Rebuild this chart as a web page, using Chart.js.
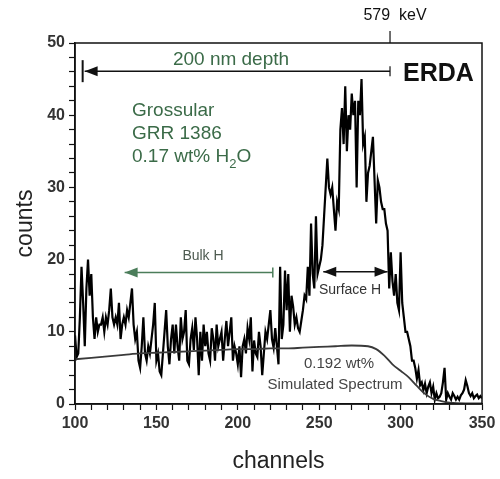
<!DOCTYPE html>
<html>
<head>
<meta charset="utf-8">
<script src="https://cdn.jsdelivr.net/npm/chart.js@4"></script>
<style>
  body { margin: 0; background: #fff; }
</style>
</head>
<body>
<canvas id="myChart" width="500" height="479"></canvas>
<script>
// measured ERDA spectrum, one value per channel starting at channel 100
const firstChannel = 100;
const counts = [
  9.5, 6.5, 7, 12, 19, 14, 8, 16, 20, 15,
  18, 12, 9, 12, 10, 11, 11, 12, 10, 12,
  11, 13, 16, 12, 11, 12, 11, 14, 9, 11,
  12, 11, 13, 12, 14, 16, 11, 9, 10, 6,
  5, 8, 12, 7, 6, 8, 7, 9, 11, 14,
  6, 7, 4.5, 4, 7, 10, 13, 8, 5.5, 9,
  11, 7, 11, 8, 6, 12, 9, 10, 13, 6,
  5.5, 9, 10.5, 7.5, 12, 9, 4, 10, 6, 11,
  8, 10, 7, 6, 10.5, 9, 6, 11, 8, 9,
  10, 6, 9, 11.5, 8, 10, 12, 6, 8, 7,
  5.5, 8, 3.7, 8, 9, 7, 10.5, 9, 12, 4.5,
  8.8, 7, 6.5, 10, 8, 4, 7, 10, 9, 11,
  13, 9, 7.8, 10.5, 8, 5.5, 19, 9, 11, 18.5,
  13, 18, 10, 15, 13.5, 11, 12, 10.5, 10, 11.5,
  13, 15, 14.5, 19, 15, 25, 18, 16, 26, 18,
  19, 20, 22, 26, 30, 34, 30, 29, 30, 27,
  24, 28, 27, 38, 41, 36, 44, 35, 40, 38,
  43, 40, 42, 30, 42, 40, 45, 36, 37, 28,
  32, 33, 35, 37, 31, 25, 31, 30, 28, 27,
  27, 25, 24, 16, 21, 17, 15, 18, 14, 13,
  21, 14, 12, 10, 10, 9, 8, 6, 6, 5,
  3.5, 4.7, 2.6, 3, 1.9, 2.8, 1.5, 2.4, 3, 1.5,
  2.4, 0.6, 1.5, 0.8, 1, 1.5, 3, 5, 0.6, 1.5,
  1, 0.6, 1.5, 1.1, 0.6, 1, 0.6, 1.2, 1.5, 2,
  3.3, 2.5, 1.5, 1.1, 1.5, 0.8, 1.1, 1.3, 0.8, 1.1,
  0.8
];

// simulated spectrum (0.192 wt%)
const simChannels = [100, 110, 120, 130, 140, 150, 160, 170, 180, 190, 200, 210, 220, 230, 240, 250,
  260, 270, 280, 285, 290, 295, 300, 305, 310, 315, 320, 325, 330, 340, 350];
const simCounts = [6.2, 6.4, 6.6, 6.8, 7.0, 7.1, 7.2, 7.3, 7.4, 7.5, 7.6, 7.6, 7.7, 7.7, 7.8, 7.9,
  8.0, 8.1, 8.0, 7.6, 6.7, 5.5, 4.6, 3.7, 2.5, 1.4, 0.7, 0.4, 0.2, 0.1, 0.1];

const xMin = 100, xMax = 350, xMajor = 50, xMinor = 10;
const yMin = 0, yMax = 50, yMajor = 10, yMinor = 2;

const green = '#3b6b48';
const font = 'Liberation Sans, Arial, sans-serif';

function arrowHead(ctx, px, py, dir, color) {
  ctx.fillStyle = color;
  ctx.beginPath();
  ctx.moveTo(px, py);
  ctx.lineTo(px - dir * 13, py - 5);
  ctx.lineTo(px - dir * 13, py + 5);
  ctx.closePath();
  ctx.fill();
}

function hLine(ctx, x1, x2, py, color, w) {
  ctx.strokeStyle = color;
  ctx.lineWidth = w;
  ctx.beginPath();
  ctx.moveTo(x1, py);
  ctx.lineTo(x2, py);
  ctx.stroke();
}

function vLine(ctx, px, y1, y2, color, w) {
  ctx.strokeStyle = color;
  ctx.lineWidth = w;
  ctx.beginPath();
  ctx.moveTo(px, y1);
  ctx.lineTo(px, y2);
  ctx.stroke();
}

const annotate = {
  id: 'annotate',
  afterDraw(chart) {
    const { ctx, chartArea: a, scales: { x, y } } = chart;
    ctx.save();

    // frame
    ctx.strokeStyle = '#111';
    ctx.lineWidth = 1.5;
    ctx.strokeRect(a.left, a.top, a.right - a.left, a.bottom - a.top);

    // 579 keV marker
    const keV = x.getPixelForValue(293.5);
    vLine(ctx, keV, a.top - 12, a.top, '#111', 1.2);
    ctx.fillStyle = '#111';
    ctx.font = '16px ' + font;
    ctx.textAlign = 'center';
    ctx.textBaseline = 'middle';
    ctx.fillText('579  keV', keV + 5, 16);

    // 200 nm depth arrow
    const dy = y.getPixelForValue(46.1);
    const dl = x.getPixelForValue(104.7);
    hLine(ctx, dl + 2, keV, dy, '#111', 1.5);
    vLine(ctx, dl, dy - 11, dy + 11, '#111', 2);
    arrowHead(ctx, dl + 2, dy, -1, '#111');
    vLine(ctx, keV, dy - 5, dy + 5, '#111', 1.2);
    ctx.fillStyle = green;
    ctx.font = '19px ' + font;
    ctx.fillText('200 nm depth', 231, 60);

    ctx.fillStyle = '#111';
    ctx.font = 'bold 25px ' + font;
    ctx.textAlign = 'left';
    ctx.fillText('ERDA', 403, 74);

    // sample text
    ctx.fillStyle = green;
    ctx.font = '19px ' + font;
    ctx.fillText('Grossular', 132, 111);
    ctx.fillText('GRR 1386', 132, 134);
    const t = '0.17 wt% H';
    ctx.fillText(t, 132, 157);
    let w = ctx.measureText(t).width;
    ctx.font = '13px ' + font;
    ctx.fillText('2', 132 + w, 164);
    w += ctx.measureText('2').width;
    ctx.font = '19px ' + font;
    ctx.fillText('O', 132 + w, 157);

    // Bulk H
    const by = y.getPixelForValue(18.2);
    const bl = x.getPixelForValue(130.5);
    const br = x.getPixelForValue(221.5);
    hLine(ctx, bl, br, by, '#4b7d5a', 1.5);
    arrowHead(ctx, bl, by, -1, '#4b7d5a');
    vLine(ctx, br, by - 5, by + 5, '#4b7d5a', 1.5);
    ctx.fillStyle = '#4d5a50';
    ctx.font = '14px ' + font;
    ctx.textAlign = 'center';
    ctx.fillText('Bulk H', 203, 256);

    // Surface H
    const sy = y.getPixelForValue(18.3);
    const sl = x.getPixelForValue(252.5);
    const sr = x.getPixelForValue(292);
    hLine(ctx, sl, sr, sy, '#111', 1.5);
    arrowHead(ctx, sl, sy, -1, '#111');
    arrowHead(ctx, sr, sy, 1, '#111');
    ctx.fillStyle = '#333';
    ctx.font = '14px ' + font;
    ctx.fillText('Surface H', 350, 290);

    // simulated spectrum label
    ctx.fillStyle = '#444';
    ctx.font = '15px ' + font;
    ctx.fillText('0.192 wt%', 339, 364);
    ctx.fillText('Simulated Spectrum', 335, 385);

    ctx.restore();
  }
};

const data = {
  datasets: [
    {
      label: 'Simulated Spectrum',
      data: simChannels.map((c, i) => ({ x: c, y: simCounts[i] })),
      borderColor: '#3a3a3a',
      borderWidth: 1.8,
      pointRadius: 0,
      cubicInterpolationMode: 'monotone'
    },
    {
      label: 'counts',
      data: counts.map((v, i) => ({ x: firstChannel + i, y: v })),
      borderColor: '#000',
      borderWidth: 2.2,
      pointRadius: 0,
      tension: 0
    }
  ]
};

const ctx = document.getElementById('myChart').getContext('2d');
const chart = new Chart(ctx, {
  type: 'line',
  data: data,
  options: {
    responsive: false,
    animation: false,
    layout: { padding: { left: 0, right: 18, top: 43, bottom: 0 } },
    plugins: { legend: { display: false }, tooltip: { enabled: false } },
    scales: {
      x: {
        type: 'linear',
        min: xMin,
        max: xMax,
        afterFit: s => { s.height = 75; },
        afterBuildTicks: s => {
          s.ticks = [];
          for (let v = xMin; v <= xMax; v += xMinor) s.ticks.push({ value: v });
        },
        border: { display: true, color: '#111', width: 1.5 },
        grid: { drawOnChartArea: false, tickLength: 6, tickColor: '#111', tickWidth: 1.2 },
        ticks: {
          autoSkip: false,
          maxRotation: 0,
          padding: 4,
          color: '#333',
          font: { family: font, size: 16, weight: 'bold' },
          callback: v => (v % xMajor === 0 ? v : '')
        },
        title: {
          display: true,
          text: 'channels',
          color: '#222',
          font: { family: font, size: 23 },
          padding: { top: 4, bottom: 4 }
        }
      },
      y: {
        min: yMin,
        max: yMax,
        afterFit: s => { s.width = 75; },
        afterBuildTicks: s => {
          s.ticks = [];
          for (let v = yMin; v <= yMax; v += yMinor) s.ticks.push({ value: v });
        },
        border: { display: true, color: '#111', width: 1.5 },
        grid: { drawOnChartArea: false, tickLength: 6, tickColor: '#111', tickWidth: 1.2 },
        ticks: {
          autoSkip: false,
          padding: 4,
          color: '#333',
          font: { family: font, size: 16, weight: 'bold' },
          callback: v => (v % yMajor === 0 ? v : '')
        },
        title: {
          display: true,
          text: 'counts',
          color: '#222',
          font: { family: font, size: 23 },
          padding: { top: 12, bottom: 4 }
        }
      }
    }
  },
  plugins: [annotate]
});
</script>
</body>
</html>
